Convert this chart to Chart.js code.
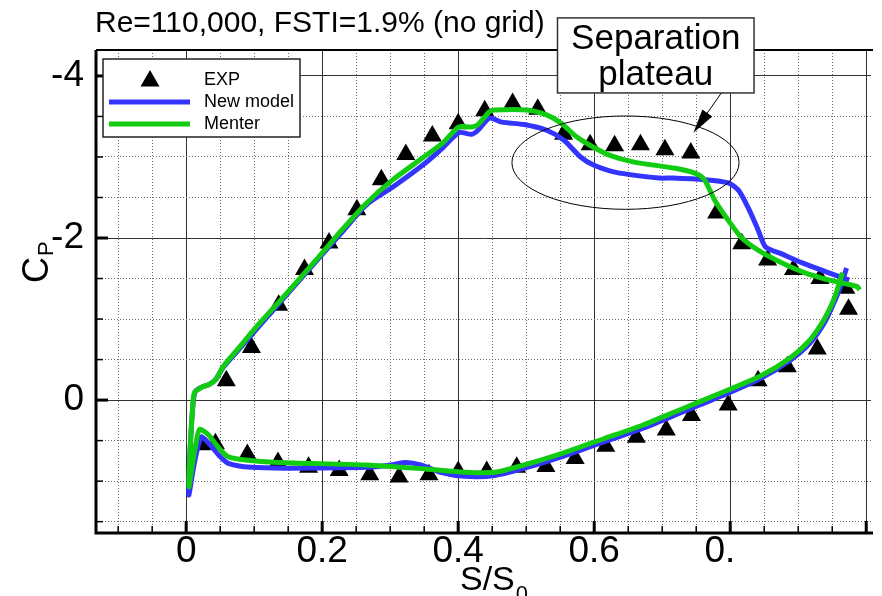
<!DOCTYPE html>
<html><head><meta charset="utf-8">
<script src="https://cdn.jsdelivr.net/npm/chart.js@4"></script>
<style>html,body{margin:0;padding:0;background:#fff;overflow:hidden}</style>
</head><body>
<canvas id="c" width="882" height="596"></canvas>
<script>
// ---------------- data ----------------
const expUpperX  = [0.059,0.096,0.136,0.174,0.210,0.251,0.287,0.323,0.362,0.400,0.439,0.480,0.517,0.555,0.594,0.630,0.668,0.704,0.742,0.780,0.817,0.855,0.893,0.932,0.970,0.974];
const expUpperCp = [-0.24,-0.65,-1.17,-1.61,-1.94,-2.35,-2.72,-3.03,-3.26,-3.41,-3.57,-3.66,-3.59,-3.28,-3.15,-3.14,-3.15,-3.09,-3.05,-2.31,-1.93,-1.73,-1.61,-1.50,-1.38,-1.12];
const expLowerX  = [0.023,0.043,0.090,0.135,0.180,0.225,0.270,0.313,0.357,0.400,0.442,0.486,0.529,0.572,0.617,0.662,0.706,0.743,0.797,0.841,0.884,0.928];
const expLowerCp = [0.55,0.54,0.67,0.77,0.83,0.87,0.92,0.95,0.92,0.88,0.88,0.83,0.82,0.72,0.57,0.46,0.37,0.19,0.06,-0.24,-0.41,-0.63];

const newModelX  = [0.975,0.942,0.907,0.874,0.852,0.841,0.826,0.812,0.797,0.762,0.714,0.696,0.632,0.599,0.580,0.555,0.530,0.497,0.464,0.446,0.429,0.420,0.401,0.377,0.348,0.304,0.265,0.229,0.193,0.149,0.106,0.077,0.055,0.043,0.033,0.023,0.013,0.009,0.006,0.004,0.004,
                    0.012,0.022,0.033,0.048,0.062,0.096,0.145,0.265,0.301,0.323,0.345,0.374,0.410,0.454,0.497,0.555,0.613,0.671,0.729,0.787,0.845,0.888,0.917,0.939,0.954,0.964,0.971];
const newModelCp = [-1.48,-1.58,-1.69,-1.81,-1.89,-2.10,-2.38,-2.59,-2.68,-2.72,-2.74,-2.74,-2.81,-2.90,-3.00,-3.21,-3.33,-3.40,-3.43,-3.48,-3.33,-3.28,-3.30,-3.11,-2.90,-2.63,-2.41,-2.07,-1.73,-1.31,-0.90,-0.62,-0.41,-0.25,-0.19,-0.16,-0.10,0.16,0.58,0.99,1.17,
                    0.78,0.46,0.53,0.68,0.78,0.83,0.84,0.83,0.80,0.77,0.80,0.89,0.94,0.93,0.84,0.69,0.52,0.35,0.15,-0.05,-0.27,-0.49,-0.70,-0.96,-1.23,-1.44,-1.63];

const menterX  = [0.990,0.987,0.946,0.907,0.874,0.841,0.816,0.797,0.777,0.762,0.748,0.719,0.657,0.623,0.599,0.574,0.551,0.530,0.501,0.454,0.446,0.429,0.420,0.401,0.377,0.348,0.304,0.265,0.229,0.193,0.149,0.106,0.077,0.055,0.043,0.033,0.023,0.012,0.009,0.006,0.004,
                  0.009,0.016,0.020,0.033,0.048,0.062,0.087,0.135,0.265,0.352,0.410,0.454,0.497,0.555,0.613,0.671,0.729,0.787,0.845,0.888,0.917,0.939,0.954,0.965];
const menterCp = [-1.36,-1.40,-1.48,-1.58,-1.70,-1.85,-2.01,-2.22,-2.47,-2.72,-2.80,-2.86,-2.94,-3.02,-3.12,-3.25,-3.42,-3.52,-3.58,-3.58,-3.56,-3.40,-3.37,-3.37,-3.17,-2.99,-2.72,-2.43,-2.10,-1.75,-1.33,-0.93,-0.64,-0.42,-0.25,-0.19,-0.16,-0.09,0.16,0.58,1.07,
                  0.80,0.46,0.36,0.43,0.59,0.70,0.74,0.77,0.80,0.85,0.89,0.89,0.80,0.65,0.48,0.31,0.11,-0.09,-0.30,-0.52,-0.74,-1.01,-1.28,-1.57];

const xTickValues = [0, 0.2, 0.4, 0.6, 0.8, 1.0];
const xTickLabels = ['0', '0.2', '0.4', '0.6', '0.  ', ''];
const yTickValues = [-4, -2, 0];
const yTickLabels = ['-4', '-2', '0'];

const titleText = 'Re=110,000, FSTI=1.9% (no grid)';
const seriesNames = ['EXP', 'New model', 'Menter'];
const noteLines = ['Separation', 'plateau'];

// axis ranges and annotation placement (data units)
const X_MIN = -0.1326, X_MAX = 1.007, Y_MIN = -4.32, Y_MAX = 1.64;
const X_MINOR = 0.05, Y_MINOR = 0.5;
const ellipseC = {x: 0.646, y: -2.93, rx: 0.167, ry: 0.576};
const noteBox = {x0: 0.546, x1: 0.835, y0: -4.716, y1: -3.79};
const arrowFrom = {x: 0.787, y: -3.79}, arrowTo = {x: 0.746, y: -3.30};

// ---------------- helpers ----------------
const FAM = "'Liberation Sans', Arial, Helvetica, sans-serif";
const font = s => s + 'px ' + FAM;
const near = (v, arr) => arr.findIndex(a => Math.abs(a - v) < 1e-6);
const pts = (xs, ys) => xs.map((x, i) => ({x, y: ys[i]}));
function range(a, b, s) { const out = []; for (let v = Math.ceil(a / s - 1e-9) * s; v <= b + 1e-9; v += s) out.push(Math.round(v * 1000) / 1000); return out; }

const BLUE = '#3434ff', GREEN = '#12cc12';

const deco = {
  id: 'deco',
  afterDraw(chart) {
    const {ctx, chartArea: a, scales} = chart;
    const xs = scales.x, ys = scales.y;
    ctx.save();
    // inward tick marks
    ctx.strokeStyle = '#000';
    xs.ticks.forEach(t => {
      const px = xs.getPixelForValue(t.value);
      const mj = near(t.value, xTickValues) >= 0;
      ctx.lineWidth = mj ? 3 : 1.5;
      ctx.beginPath(); ctx.moveTo(px, a.bottom); ctx.lineTo(px, a.bottom - (mj ? 12 : 7)); ctx.stroke();
    });
    ys.ticks.forEach(t => {
      const py = ys.getPixelForValue(t.value);
      const mj = near(t.value, yTickValues) >= 0;
      ctx.lineWidth = mj ? 3 : 1.5;
      ctx.beginPath(); ctx.moveTo(a.left, py); ctx.lineTo(a.left + (mj ? 12 : 7), py); ctx.stroke();
    });
    // frame
    ctx.lineWidth = 3;
    ctx.beginPath(); ctx.moveTo(a.left, a.top); ctx.lineTo(a.left, a.bottom); ctx.lineTo(a.right + 2, a.bottom); ctx.stroke();
    ctx.lineWidth = 2;
    ctx.beginPath(); ctx.moveTo(a.left, a.top); ctx.lineTo(a.right + 2, a.top); ctx.stroke();

    // ellipse
    const ecx = xs.getPixelForValue(ellipseC.x), ecy = ys.getPixelForValue(ellipseC.y);
    const erx = Math.abs(xs.getPixelForValue(ellipseC.x + ellipseC.rx) - ecx);
    const ery = Math.abs(ys.getPixelForValue(ellipseC.y + ellipseC.ry) - ecy);
    ctx.lineWidth = 1; ctx.strokeStyle = '#000';
    ctx.beginPath(); ctx.ellipse(ecx, ecy, erx, ery, 0, 0, Math.PI * 2); ctx.stroke();

    // arrow
    const ax0 = xs.getPixelForValue(arrowFrom.x), ay0 = ys.getPixelForValue(arrowFrom.y);
    const ax1 = xs.getPixelForValue(arrowTo.x), ay1 = ys.getPixelForValue(arrowTo.y);
    const ang = Math.atan2(ay1 - ay0, ax1 - ax0), L = 24, W = 6;
    const bx = ax1 - L * Math.cos(ang), by = ay1 - L * Math.sin(ang);
    ctx.beginPath(); ctx.moveTo(ax0, ay0); ctx.lineTo(bx, by); ctx.stroke();
    ctx.fillStyle = '#000';
    ctx.beginPath(); ctx.moveTo(ax1, ay1);
    ctx.lineTo(bx + W * Math.sin(ang), by - W * Math.cos(ang));
    ctx.lineTo(bx - W * Math.sin(ang), by + W * Math.cos(ang));
    ctx.closePath(); ctx.fill();

    // annotation box
    const bx0 = xs.getPixelForValue(noteBox.x0), bx1 = xs.getPixelForValue(noteBox.x1);
    const by0 = ys.getPixelForValue(noteBox.y0), by1 = ys.getPixelForValue(noteBox.y1);
    ctx.fillStyle = '#fff'; ctx.fillRect(bx0, by0, bx1 - bx0, by1 - by0);
    ctx.strokeStyle = '#333'; ctx.lineWidth = 1.5; ctx.strokeRect(bx0, by0, bx1 - bx0, by1 - by0);
    ctx.fillStyle = '#000'; ctx.font = font(35); ctx.textAlign = 'center'; ctx.textBaseline = 'alphabetic';
    const bcx = (bx0 + bx1) / 2;
    ctx.fillText(noteLines[0], bcx, by0 + 31);
    ctx.fillText(noteLines[1], bcx, by0 + 67);

    // legend
    const lx = 103, ly = 59, lw = 197, lh = 78;
    ctx.fillStyle = '#fff'; ctx.fillRect(lx, ly, lw, lh);
    ctx.strokeStyle = '#222'; ctx.lineWidth = 1.5; ctx.strokeRect(lx, ly, lw, lh);
    const ds = chart.data.datasets;
    // triangle marker
    const r = 11, tcx = 150, tcy = 81;
    ctx.fillStyle = '#000';
    ctx.beginPath();
    ctx.moveTo(tcx, tcy - r);
    ctx.lineTo(tcx - r * Math.sqrt(3) / 2, tcy + r / 2);
    ctx.lineTo(tcx + r * Math.sqrt(3) / 2, tcy + r / 2);
    ctx.closePath(); ctx.fill();
    ctx.lineWidth = 5; ctx.lineCap = 'butt';
    ctx.strokeStyle = ds[1].borderColor; ctx.beginPath(); ctx.moveTo(109, 102); ctx.lineTo(190, 102); ctx.stroke();
    ctx.strokeStyle = ds[2].borderColor; ctx.beginPath(); ctx.moveTo(109, 124); ctx.lineTo(190, 124); ctx.stroke();
    ctx.fillStyle = '#000'; ctx.font = font(18); ctx.textAlign = 'left'; ctx.textBaseline = 'middle';
    ctx.fillText(seriesNames[0], 204, 80);
    ctx.fillText(seriesNames[1], 204, 102);
    ctx.fillText(seriesNames[2], 204, 124);

    // title
    ctx.font = font(30); ctx.textBaseline = 'alphabetic'; ctx.textAlign = 'left';
    ctx.fillText(titleText, 95, 32);

    // x axis title S/S0
    ctx.font = font(34);
    const sw = ctx.measureText('S/S').width;
    const tx = 460;
    ctx.fillText('S/S', tx, 590);
    ctx.font = font(22);
    ctx.fillText('0', tx + sw + 1, 601);

    // y axis title C_P
    ctx.translate(48, 283); ctx.rotate(-Math.PI / 2);
    ctx.font = font(36);
    const cw = ctx.measureText('C').width;
    ctx.fillText('C', 0, 0);
    ctx.font = font(22);
    ctx.fillText('P', cw + 1, 5);
    ctx.restore();
  }
};

const minorGrid = arr => (c => (c.tick && near(c.tick.value, arr) >= 0) ? 'rgba(0,0,0,0)' : '#6a6a6a');

new Chart(document.getElementById('c'), {
  type: 'scatter',
  data: {
    datasets: [
      {label: seriesNames[0], data: pts(expUpperX.concat(expLowerX), expUpperCp.concat(expLowerCp)),
       pointStyle: 'triangle', pointRadius: 11, pointBackgroundColor: '#000', pointBorderWidth: 0, showLine: false, order: 3},
      {label: seriesNames[1], data: pts(newModelX, newModelCp), showLine: true, borderColor: BLUE, borderWidth: 5,
       pointRadius: 0, tension: 0.25, fill: false, order: 2},
      {label: seriesNames[2], data: pts(menterX, menterCp), showLine: true, borderColor: GREEN, borderWidth: 5,
       pointRadius: 0, tension: 0.25, fill: false, order: 1}
    ]
  },
  options: {
    responsive: false, animation: false, devicePixelRatio: 1,
    layout: {padding: {top: 50, left: 0, right: 0, bottom: 0}},
    plugins: {legend: {display: false}, title: {display: false}, tooltip: {enabled: false}},
    events: [],
    scales: {
      x: {
        type: 'linear', position: 'bottom', min: X_MIN, max: X_MAX,
        afterBuildTicks: s => { s.ticks = range(X_MIN, X_MAX, X_MINOR).map(v => ({value: v})); },
        afterFit: s => { s.height = 63; },
        ticks: {autoSkip: false, maxRotation: 0, padding: -3, color: '#000', font: {size: 37, family: FAM},
          callback: v => { const i = near(v, xTickValues); return i >= 0 ? xTickLabels[i] : ''; }},
        grid: {color: minorGrid(xTickValues), lineWidth: 1, drawTicks: false},
        border: {display: false, dash: [1, 2]}
      },
      xMajor: {
        type: 'linear', axis: 'x', position: 'top', min: X_MIN, max: X_MAX,
        afterBuildTicks: s => { s.ticks = xTickValues.map(v => ({value: v})); },
        afterFit: s => { s.height = 0; },
        ticks: {display: false}, grid: {color: '#333', lineWidth: 1, drawTicks: false}, border: {display: false}
      },
      y: {
        type: 'linear', position: 'left', reverse: true, min: Y_MIN, max: Y_MAX,
        afterBuildTicks: s => { s.ticks = range(Y_MIN, Y_MAX, Y_MINOR).map(v => ({value: v})); },
        afterFit: s => { s.width = 96; },
        ticks: {autoSkip: false, padding: 12, color: '#000', font: {size: 37, family: FAM},
          callback: v => { const i = near(v, yTickValues); return i >= 0 ? yTickLabels[i] : ''; }},
        grid: {color: minorGrid(yTickValues), lineWidth: 1, drawTicks: false},
        border: {display: false, dash: [1, 2]}
      },
      yMajor: {
        type: 'linear', axis: 'y', position: 'right', reverse: true, min: Y_MIN, max: Y_MAX,
        afterBuildTicks: s => { s.ticks = yTickValues.map(v => ({value: v})); },
        afterFit: s => { s.width = 0; },
        ticks: {display: false}, grid: {color: '#333', lineWidth: 1, drawTicks: false}, border: {display: false}
      }
    }
  },
  plugins: [deco]
});
</script>
</body></html>
